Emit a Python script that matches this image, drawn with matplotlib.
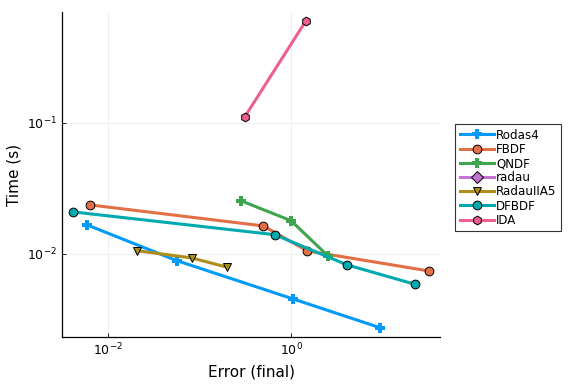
#!/usr/bin/env python3
"""Work-precision plot: solve time vs final error for several DAE solvers."""

import numpy as np
import matplotlib
matplotlib.use("Agg")
import matplotlib.pyplot as plt
from matplotlib.ticker import LogLocator, NullLocator

# values (log10 of error, log10 of time)
rodas4_err = [-2.226, -1.249, 0.025, 0.973]
rodas4_time = [-1.779, -2.051, -2.344, -2.563]

fbdf_err = [-2.193, -0.303, 0.178, 1.508]
fbdf_time = [-1.626, -1.786, -1.977, -2.130]

qndf_err = [-0.550, 0.000, 0.401]
qndf_time = [-1.593, -1.746, -2.013]

radau_err = []
radau_time = []

radauiia5_err = [-1.686, -1.082, -0.696]
radauiia5_time = [-1.975, -2.031, -2.102]

dfbdf_err = [-2.383, -0.178, 0.615, 1.352]
dfbdf_time = [-1.679, -1.853, -2.084, -2.231]

ida_err = [-0.506, 0.164]
ida_time = [-0.954, -0.219]

series = [
    ("Rodas4", rodas4_err, rodas4_time, "#009AFA", "P"),
    ("FBDF", fbdf_err, fbdf_time, "#E36F47", "o"),
    ("QNDF", qndf_err, qndf_time, "#3EA44E", "P"),
    ("radau", radau_err, radau_time, "#C371D2", "D"),
    ("RadauIIA5", radauiia5_err, radauiia5_time, "#AC8E18", "v"),
    ("DFBDF", dfbdf_err, dfbdf_time, "#00A9AD", "o"),
    ("IDA", ida_err, ida_time, "#ED5E93", "h"),
]


def main():
    fig = plt.figure(figsize=(5.76, 3.84), dpi=100)
    ax = fig.add_axes([62 / 576, 1 - 337 / 384, 378 / 576, 325 / 384])

    for name, err, t, color, marker in series:
        x = 10 ** np.array(err, dtype=float)
        y = 10 ** np.array(t, dtype=float)
        plus = marker == "P"
        ax.plot(x, y, color=color, lw=2.2, label=name,
                marker=marker,
                markersize=7 if plus else (6.3 if marker != "D" else 5.8),
                markerfacecolor=color,
                markeredgecolor=color if plus else "black",
                markeredgewidth=0.0 if plus else 0.7)

    ax.set_xscale("log")
    ax.set_yscale("log")
    ax.set_xlim(10 ** -2.503, 10 ** 1.628)
    ax.set_ylim(10 ** -2.634, 10 ** -0.153)
    ax.xaxis.set_major_locator(LogLocator(base=100))
    ax.yaxis.set_major_locator(LogLocator(base=10))
    ax.xaxis.set_minor_locator(NullLocator())
    ax.yaxis.set_minor_locator(NullLocator())

    ax.grid(True, color="#efefef", lw=0.8)
    ax.set_axisbelow(True)
    for side in ("top", "right"):
        ax.spines[side].set_visible(False)
    for side in ("left", "bottom"):
        ax.spines[side].set_linewidth(0.9)
    ax.tick_params(direction="in", length=3, labelsize=9, width=0.6)

    ax.set_xlabel("Error (final)", fontsize=11)
    ax.set_ylabel("Time (s)", fontsize=11)

    leg = ax.legend(loc="center left", bbox_to_anchor=(1.025, 0.49), fontsize=8.6,
                    frameon=True, fancybox=False, edgecolor="black",
                    handlelength=2.9, handletextpad=0.15, borderpad=0.35,
                    labelspacing=0.1)
    leg.get_frame().set_linewidth(0.8)

    fig.savefig("out.png", dpi=100)
    plt.close(fig)


if __name__ == "__main__":
    main()
